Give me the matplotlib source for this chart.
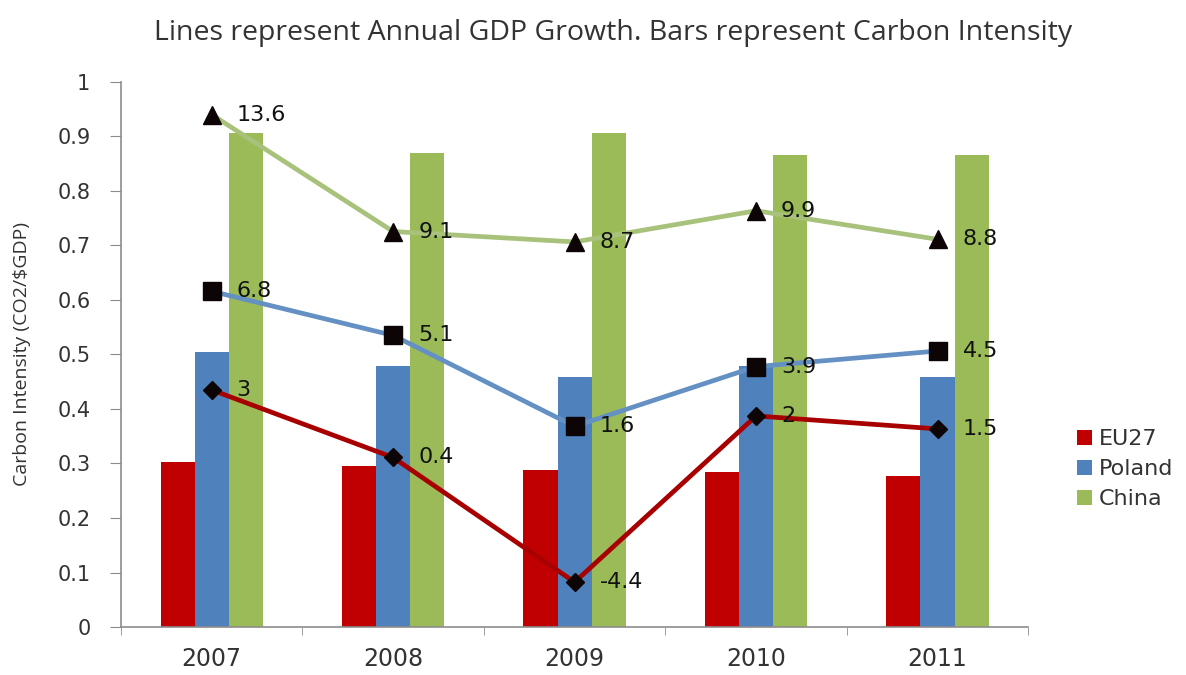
import matplotlib

matplotlib.use("Agg")
import matplotlib.pyplot as plt
import numpy as np
from matplotlib.patches import Patch

# ----------------------------------------------------------------- dati
years = ["2007", "2008", "2009", "2010", "2011"]
countries = ["EU27", "Poland", "China"]

# intensita' di carbonio (CO2 / $GDP)
ci_eu27 = [0.302, 0.295, 0.288, 0.284, 0.277]
ci_poland = [0.505, 0.478, 0.458, 0.478, 0.458]
ci_china = [0.905, 0.870, 0.905, 0.865, 0.865]

# crescita annua del PIL (%)
gdp_eu27 = [3, 0.4, -4.4, 2, 1.5]
gdp_poland = [6.8, 5.1, 1.6, 3.9, 4.5]
gdp_china = [13.6, 9.1, 8.7, 9.9, 8.8]

BAR_COLORS = ["#C00000", "#4F81BD", "#9BBB59"]
LINE_COLORS = ["#A80000", "#6490C4", "#A8C27C"]
MARKERS = [("D", 9), ("s", 13), ("^", 13)]

AXIS_GREY = "#8c8c8c"
TEXT = "#333333"


def main() -> None:
    fig = plt.figure(figsize=(11.86, 6.75), dpi=100)
    ax = fig.add_axes([0.102, 0.071, 0.765, 0.808])

    x = np.arange(len(years))
    w = 0.188
    for i, (vals, c) in enumerate(zip([ci_eu27, ci_poland, ci_china], BAR_COLORS)):
        ax.bar(x + (i - 1) * w, vals, width=w, color=c, zorder=2)

    ax.set_xlim(-0.5, len(years) - 0.5)
    ax.set_ylim(0, 1)
    ax.set_yticks(np.arange(0, 1.01, 0.1))
    ax.set_yticklabels(["0"] + [f"{v:.1f}" for v in np.arange(0.1, 0.95, 0.1)] + ["1"])
    ax.set_xticks(x)
    ax.set_xticklabels(years)
    ax.set_xticks(np.arange(-0.5, len(years)), minor=True)
    ax.tick_params(axis="x", which="major", length=0, pad=14, labelsize=17, labelcolor=TEXT)
    ax.tick_params(axis="x", which="minor", length=6, color=AXIS_GREY, direction="out")
    ax.tick_params(axis="y", length=8, color=AXIS_GREY, direction="out", pad=14,
                   labelsize=15, labelcolor=TEXT)
    for s in ["top", "right"]:
        ax.spines[s].set_visible(False)
    for s in ["left", "bottom"]:
        ax.spines[s].set_color(AXIS_GREY)
        ax.spines[s].set_linewidth(1.2)
    ax.set_ylabel("Carbon Intensity (CO2/$GDP)", fontsize=14, color=TEXT,
                  family=["Open Sans", "DejaVu Sans"], labelpad=19)

    # linee del PIL su asse secondario nascosto
    ax2 = ax.twinx()
    ax2.set_ylim(-6.13, 14.87)
    ax2.set_axis_off()
    for vals, c, (m, ms) in zip([gdp_eu27, gdp_poland, gdp_china], LINE_COLORS, MARKERS):
        ax2.plot(x, vals, color=c, lw=3.4, zorder=3)
        ax2.plot(x, vals, ls="none", marker=m, ms=ms, mfc="#0d0505", mec="#0d0505", zorder=4)
        for xi, v in zip(x, vals):
            ax2.annotate(f"{v:g}", (xi, v), textcoords="offset points", xytext=(18, 0),
                         va="center", ha="left", fontsize=16, color="#111111", zorder=5)

    handles = [Patch(facecolor=c, label=n) for n, c in zip(countries, BAR_COLORS)]
    fig.legend(handles=handles, loc="center left", bbox_to_anchor=(0.891, 0.305),
               frameon=False, fontsize=16, handlelength=0.7, handleheight=0.7,
               handletextpad=0.3, labelspacing=0.45, labelcolor=TEXT)

    fig.text(0.517, 0.951, "Lines represent Annual GDP Growth. Bars represent Carbon Intensity",
             ha="center", va="center", fontsize=20.5, color=TEXT,
             family=["Open Sans", "DejaVu Sans"])

    fig.savefig("out.png", dpi=100)


if __name__ == "__main__":
    main()
